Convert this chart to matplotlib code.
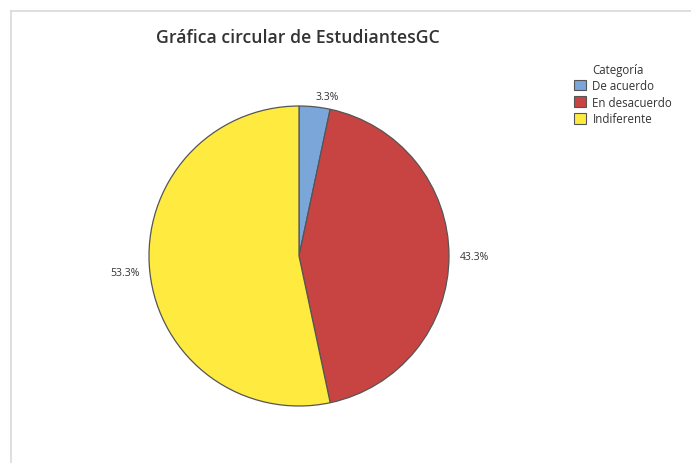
import matplotlib.pyplot as plt
from matplotlib.lines import Line2D
from matplotlib.patches import Patch

categories = ["De acuerdo", "En desacuerdo", "Indiferente"]
counts = [1, 13, 16]
colors = ["#7BA6DA", "#C84442", "#FFEA40"]

W, H = 691, 464
fig = plt.figure(figsize=(W / 100, H / 100), dpi=100)
fig.patch.set_facecolor("white")
plt.rcParams["font.family"] = ["Open Sans", "DejaVu Sans"]

# frame lines (top and left)
fig.add_artist(Line2D([11 / W, 1], [1 - 12 / H, 1 - 12 / H], color="#D9D9D9", lw=1.2))
fig.add_artist(Line2D([11 / W, 11 / W], [0, 1 - 12 / H], color="#D9D9D9", lw=1.2))

cx, cy, r = 299, 257, 150
ax = fig.add_axes([(cx - r) / W, (H - cy - r) / H, 2 * r / W, 2 * r / H])
total = sum(counts)
wedges, texts = ax.pie(
    counts,
    colors=colors,
    startangle=90,
    counterclock=False,
    labels=["%.1f%%" % (100 * c / total) for c in counts],
    labeldistance=1.07,
    wedgeprops=dict(edgecolor="#555555", linewidth=0.9),
    textprops=dict(fontsize=7.5, color="#333333"),
)
ax.set_aspect("equal")
ax.set_xlim(-1, 1)
ax.set_ylim(-1, 1)

fig.text(298 / W, 1 - 38 / H, "Gráfica circular de EstudiantesGC",
         ha="center", va="center", fontsize=12.7, fontweight="semibold", color="#333333")

fig.text(592 / W, 1 - 71 / H, "Categoría", ha="left", va="center",
         fontsize=8.3, color="#333333")
handles = [Patch(facecolor=c, edgecolor="#555555", linewidth=0.8) for c in colors]
leg = fig.legend(handles, categories, loc="upper left",
                 bbox_to_anchor=(574 / W, 1 - 80 / H), frameon=False,
                 fontsize=8.3, handlelength=1.05, handleheight=1.05,
                 handletextpad=0.55, labelspacing=0.32, borderpad=0, borderaxespad=0)
for t in leg.get_texts():
    t.set_color("#333333")

fig.savefig("out.png", dpi=100)
